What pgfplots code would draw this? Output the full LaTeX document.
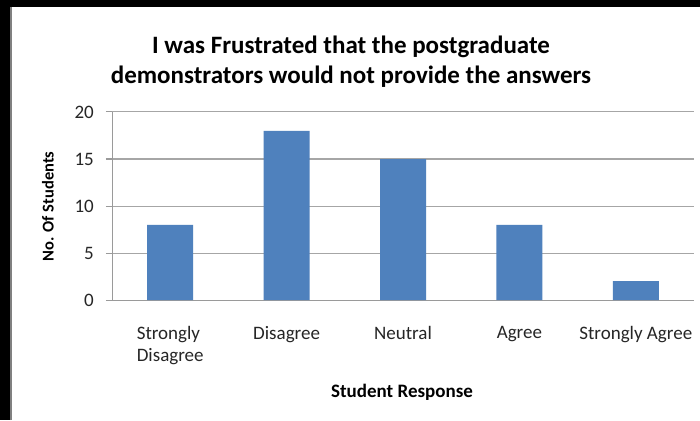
\documentclass[border=0pt]{standalone}
\usepackage{pgfplots}
\pgfplotsset{compat=1.18}
\usepackage{fontspec}
\setmainfont{Carlito}
\definecolor{barblue}{HTML}{4F81BD}
\definecolor{gridgray}{HTML}{A6A6A6}
\definecolor{axisgray}{HTML}{9A9A9A}
\begin{document}
\begin{tikzpicture}[x=1pt,y=1pt]
\useasboundingbox (0,0) rectangle (700,420);
\fill[black] (0,0) rectangle (700,420);
\fill[white] (10,0) rectangle (700,413);
\draw[gray, line width=1.5pt] (10.75,0) -- (10.75,413);
\node[font=\bfseries\fontsize{25}{30}\selectfont, align=center] at (351,358) {I was Frustrated that the postgraduate\\demonstrators would not provide the answers};
\node[rotate=90, font=\bfseries\fontsize{16.5}{19}\selectfont] at (48,213.5) {No. Of Students};
\node[font=\bfseries\fontsize{19}{22}\selectfont] at (402,28) {Student Response};
\begin{axis}[
  at={(112pt,120pt)}, anchor=south west,
  scale only axis, width=582pt, height=188pt,
  ybar, bar width=46pt,
  ymin=0, ymax=20, ytick={0,5,10,15,20},
  xmin=-0.5, xmax=4.5, xtick={0,1,2,3,4},
  xticklabels={{Strongly\\Disagree},Disagree,Neutral,Agree,Strongly Agree},
  axis x line*=bottom, axis y line*=left,
  axis line style={axisgray, line width=1pt},
  ymajorgrids, grid style={gridgray, line width=1pt},
  tick align=outside, major tick length=6pt,
  ytick style={axisgray, line width=1pt},
  xtick style={draw=none},
  ticklabel style={font=\fontsize{19}{22}\selectfont, text=black!85},
  yticklabel style={inner sep=0pt, xshift=-12pt, anchor=east},
  xticklabel style={align=left, anchor=north, inner sep=0pt, yshift=-20pt},
  /pgf/number format/assume math mode=true,
]
\addplot[fill=barblue, draw=none] coordinates {(0,8) (1,18) (2,15) (3,8) (4,2)};
\end{axis}
\end{tikzpicture}
\end{document}
